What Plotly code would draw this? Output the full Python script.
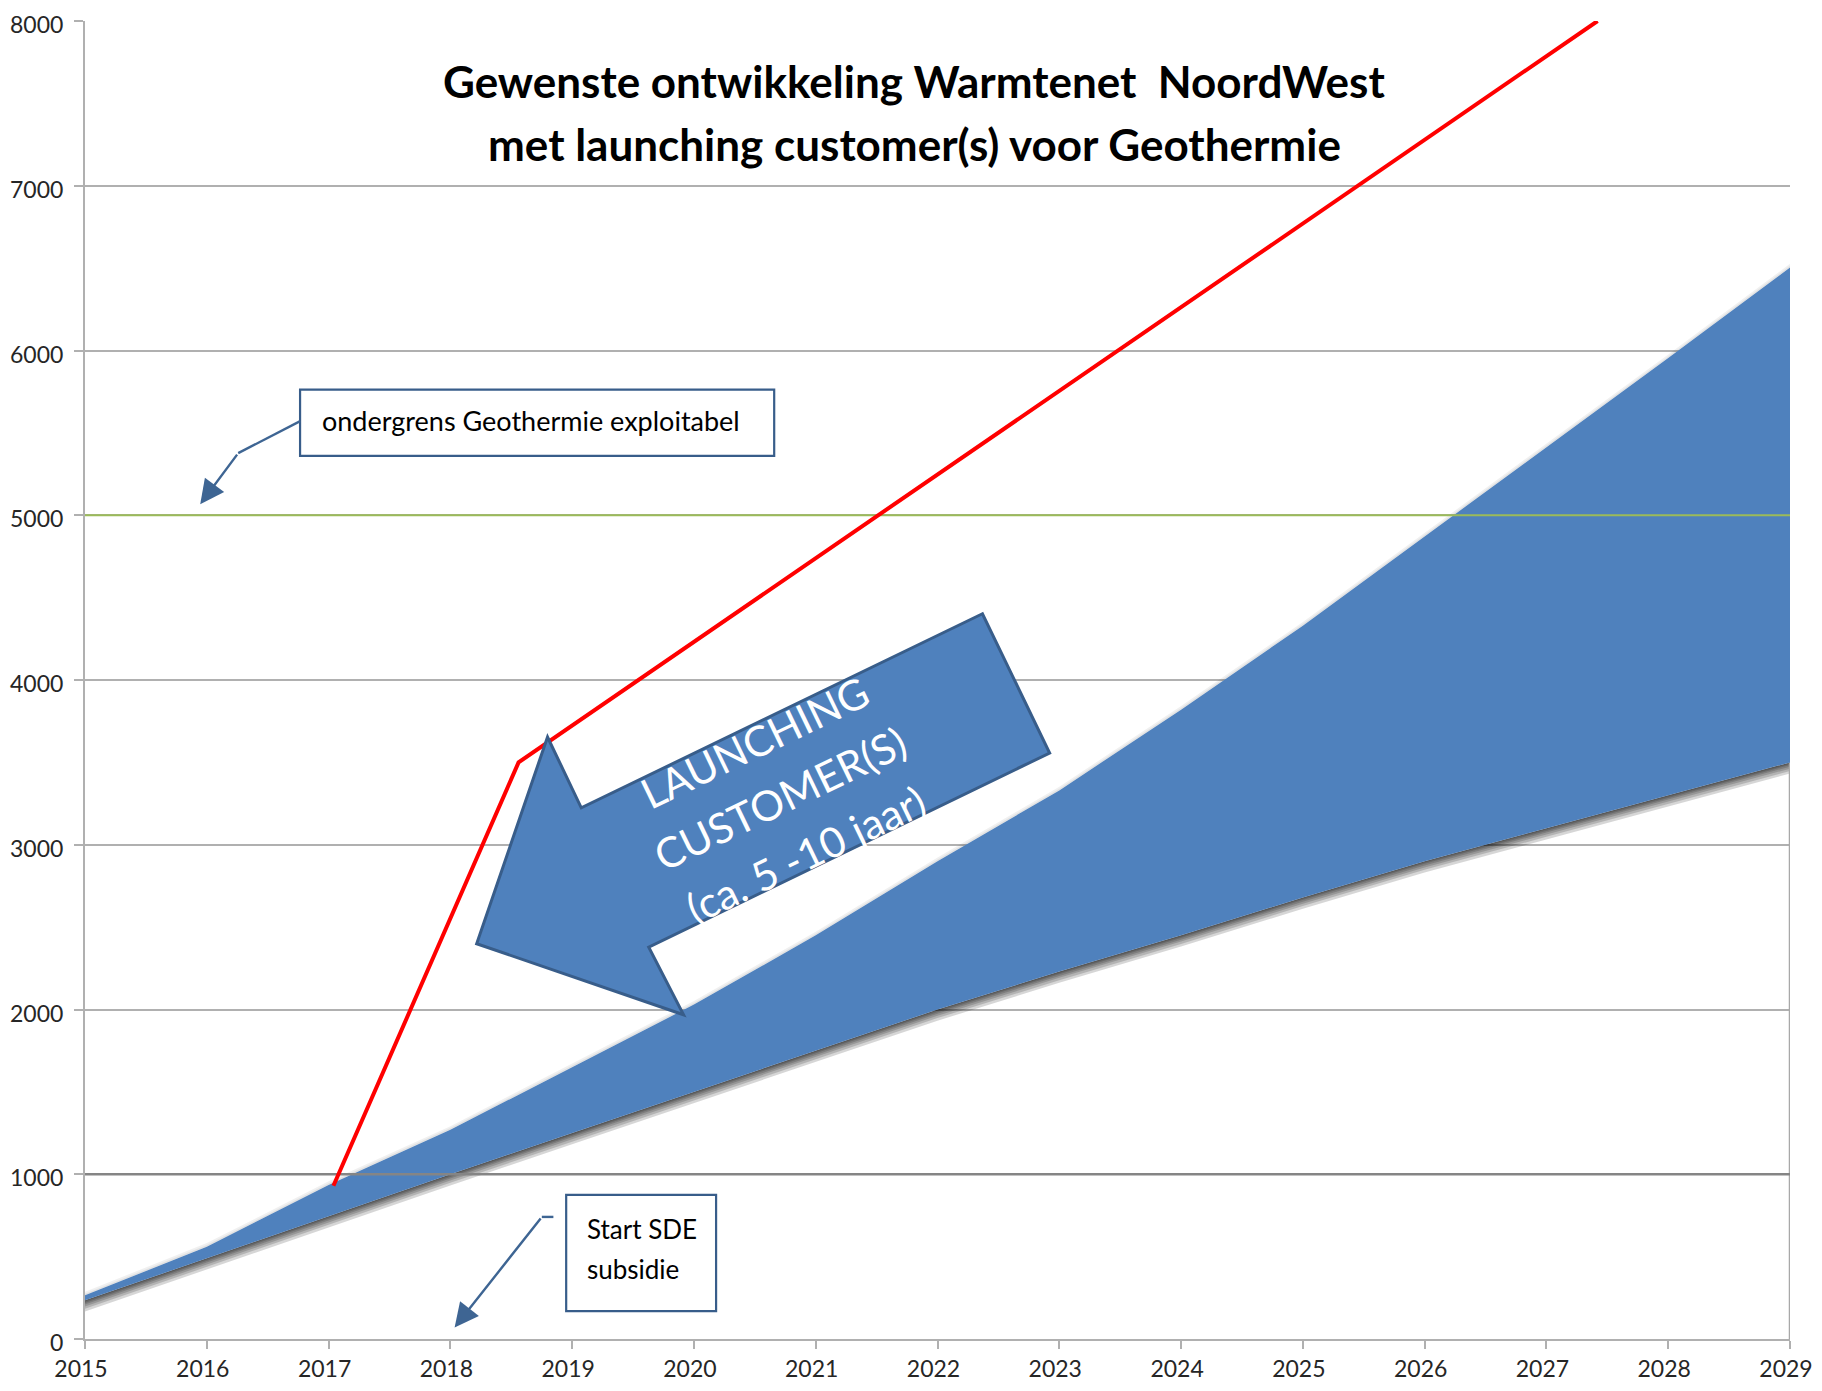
import plotly.graph_objects as go

# ---------------- data ----------------
years = list(range(2015, 2030))
band_lower = [235, 490, 745, 1000, 1250, 1500, 1750, 2000, 2230, 2450, 2680, 2900, 3100, 3300, 3500]
band_upper = [265, 560, 935, 1270, 1650, 2030, 2450, 2900, 3330, 3820, 4330, 4870, 5410, 5954, 6504]

red_x = [2017.04, 2018.56, 2027.42]
red_y = [930, 3500, 8000]

green_x = [2015, 2029]
green_y = [5000, 5000]

ref_x = [2015, 2029]
ref_y = [1000, 1000]

y_ticks = [0, 1000, 2000, 3000, 4000, 5000, 6000, 7000, 8000]

title_lines = ["Gewenste ontwikkeling Warmtenet  NoordWest",
               "met launching customer(s) voor Geothermie"]
arrow_lines = ["LAUNCHING", "CUSTOMER(S)", "(ca. 5 -10 jaar)"]
box1_text = "ondergrens Geothermie exploitabel"
box2_lines = ["Start SDE", "subsidie"]

# ---------------- styles ----------------
BLUE = "#4F81BD"
DARKBLUE = "#385D8A"
GRID = "#b0b0b0"
FONT = "Lato"

fig = go.Figure()

# shadow under the band
for d in [8, 16, 26, 38, 52, 68]:
    fig.add_trace(go.Scatter(x=years, y=[v - d for v in band_lower], mode="lines",
                             line=dict(width=0), hoverinfo="skip", showlegend=False))
    fig.add_trace(go.Scatter(x=years, y=band_lower, mode="lines", line=dict(width=0),
                             fill="tonexty", fillcolor="rgba(0,0,0,0.16)",
                             hoverinfo="skip", showlegend=False))
# light halo above the band
for d in [10, 22]:
    fig.add_trace(go.Scatter(x=years, y=band_upper, mode="lines",
                             line=dict(width=0), hoverinfo="skip", showlegend=False))
    fig.add_trace(go.Scatter(x=years, y=[v + d for v in band_upper], mode="lines", line=dict(width=0),
                             fill="tonexty", fillcolor="rgba(0,0,0,0.06)",
                             hoverinfo="skip", showlegend=False))

# right edge line at last year
fig.add_trace(go.Scatter(x=[years[-1], years[-1]], y=[0, band_lower[-1]], mode="lines",
                         line=dict(color="#a8a8a8", width=2.5), hoverinfo="skip", showlegend=False))

# band
fig.add_trace(go.Scatter(x=years, y=band_lower, mode="lines", line=dict(width=0, color=BLUE),
                         showlegend=False))
fig.add_trace(go.Scatter(x=years, y=band_upper, mode="lines", line=dict(width=0, color=BLUE),
                         fill="tonexty", fillcolor=BLUE, showlegend=False))

# 1000 reference line
fig.add_trace(go.Scatter(x=ref_x, y=ref_y, mode="lines", line=dict(color="#858585", width=2.5),
                         showlegend=False))
# green threshold line
fig.add_trace(go.Scatter(x=green_x, y=green_y, mode="lines", line=dict(color="#9BBB59", width=2.2),
                         showlegend=False))
# red line
fig.add_trace(go.Scatter(x=red_x, y=red_y, mode="lines", line=dict(color="#FF0000", width=4),
                         showlegend=False))

# ---------------- big arrow shape ----------------
arrow_pts = [(2022.369, 4402), (2019.075, 3224), (2018.798, 3654), (2018.216, 2399),
             (2019.915, 1968), (2019.629, 2378), (2022.921, 3557)]
path = "M " + " L ".join(f"{x},{y}" for x, y in arrow_pts) + " Z"
fig.add_shape(type="path", path=path, xref="x", yref="y", fillcolor=BLUE,
              line=dict(color=DARKBLUE, width=3), layer="above")

arrow_pos = [(2020.50, 3625), (2020.71, 3286), (2020.92, 2945)]
for (ax_, ay_), t in zip(arrow_pos, arrow_lines):
    fig.add_annotation(x=ax_, y=ay_, xref="x", yref="y", text=t, showarrow=False,
                       textangle=-25.8, font=dict(family=FONT, size=42, color="white"),
                       xanchor="center", yanchor="middle")

# ---------------- title ----------------
for ty, t in zip([7635, 7253], title_lines):
    fig.add_annotation(x=2021.81, y=ty, xref="x", yref="y", text=f"<b>{t}</b>", showarrow=False,
                       font=dict(family=FONT, size=44, color="black"),
                       xanchor="center", yanchor="middle")

# ---------------- callout boxes ----------------
fig.add_shape(type="rect", xref="x", yref="y", x0=2016.766, x1=2020.659, y0=5361, y1=5763,
              fillcolor="white", line=dict(color=DARKBLUE, width=2.2), layer="above")
fig.add_annotation(x=2016.928, y=5573, xref="x", yref="y", text=box1_text, showarrow=False,
                   font=dict(family=FONT, size=27, color="black"), xanchor="left", yanchor="middle")

fig.add_shape(type="rect", xref="x", yref="y", x0=2018.951, x1=2020.182, y0=169, y1=875,
              fillcolor="white", line=dict(color=DARKBLUE, width=2.2), layer="above")
for ty, t in zip([670, 423], box2_lines):
    fig.add_annotation(x=2019.104, y=ty, xref="x", yref="y", text=t, showarrow=False,
                       font=dict(family=FONT, size=26, color="black"), xanchor="left", yanchor="middle")

# callout connector lines
ACOL = "#3E6593"
fig.add_shape(type="path", xref="x", yref="y", path="M 2016.767,5571 L 2016.258,5377",
              line=dict(color=ACOL, width=2.4), layer="above")
fig.add_annotation(x=2015.946, y=5067, ax=2016.258, ay=5377, xref="x", yref="y", axref="x", ayref="y",
                   text="", showarrow=True, arrowhead=2, arrowsize=2, arrowwidth=2.4, arrowcolor=ACOL)

fig.add_shape(type="path", xref="x", yref="y", path="M 2018.846,741 L 2018.751,741",
              line=dict(color=ACOL, width=2.4), layer="above")
fig.add_annotation(x=2018.035, y=70, ax=2018.751, ay=741, xref="x", yref="y", axref="x", ayref="y",
                   text="", showarrow=True, arrowhead=2, arrowsize=2, arrowwidth=2.4, arrowcolor=ACOL)

# ---------------- layout ----------------
# page body has an 8px default margin; figure sized so the page does not overflow
fig.update_layout(
    width=1806, height=1375,
    margin=dict(l=77, r=24, t=13, b=44),
    paper_bgcolor="white", plot_bgcolor="white",
    font=dict(family=FONT, size=23, color="#262626"),
    showlegend=False,
)
fig.update_xaxes(range=[2015, 2029], tickmode="array", tickvals=years,
                 ticktext=[str(y) for y in years], automargin=False,
                 ticklabeloverflow="allow", ticklabelshift=-4,
                 showgrid=False, zeroline=False, showline=True, linecolor=GRID, linewidth=2,
                 ticks="outside", ticklen=8, tickcolor=GRID, tickwidth=1.5,
                 ticklabelstandoff=0, tickfont=dict(family=FONT, size=23, color="#262626"))
fig.update_yaxes(range=[0, 8000], tickmode="array", tickvals=y_ticks,
                 ticktext=[str(v) for v in y_ticks], automargin=False,
                 ticklabeloverflow="allow", ticklabelshift=4,
                 showgrid=True, gridcolor=GRID, gridwidth=1.5, zeroline=False,
                 showline=True, linecolor=GRID, linewidth=2,
                 ticks="outside", ticklen=9, tickcolor=GRID, tickwidth=1.5,
                 ticklabelstandoff=6, tickfont=dict(family=FONT, size=23, color="#262626"))

fig.write_html("out.html")
